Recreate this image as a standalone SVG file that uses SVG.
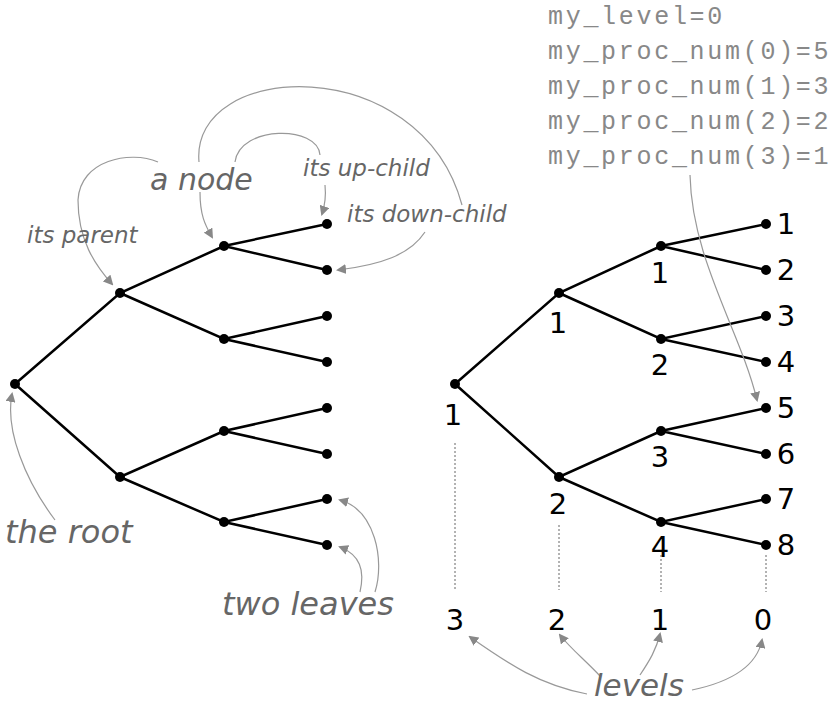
<svg xmlns="http://www.w3.org/2000/svg" width="831" height="705" viewBox="0 0 831 705">
<defs>
<marker id="ah" markerWidth="10" markerHeight="10" refX="8" refY="5" orient="auto" markerUnits="userSpaceOnUse"><path d="M0,0 L10,5 L0,10 Z" fill="#888"/></marker>
<style>
.e{stroke:#000;stroke-width:2.5;fill:none}
.a{stroke:#999;stroke-width:1.2;fill:none;marker-end:url(#ah)}
.p{stroke:#999;stroke-width:1.2;fill:none}
.d{stroke:#666;stroke-width:1;stroke-dasharray:2,2}
.n{fill:#000}
.lab{font-family:"DejaVu Sans",sans-serif;font-style:oblique;fill:#666}
.num{font-family:"DejaVu Sans",sans-serif;font-size:29px;fill:#000;text-anchor:middle}
.code{font-family:"Liberation Mono",monospace;font-size:25px;letter-spacing:2.7px;fill:#888}
</style>
</defs>
<rect width="831" height="705" fill="#fff"/>
<g id="connectors">
<path class="e" d="M15,384 L120,293 L224,246 L327,224 M224,246 L327,270 M120,293 L224,339 L327,316 M224,339 L327,362 M15,384 L120,477 L224,431 L327,408 M224,431 L327,454 M120,477 L224,522 L327,499 M224,522 L327,545"/>
<path class="e" d="M455,384 L559,293 L661,246 L766,224 M661,246 L766,270 M559,293 L661,339 L766,316 M661,339 L766,362 M455,384 L559,477 L661,431 L766,408 M661,431 L766,454 M559,477 L661,522 L766,499 M661,522 L766,545"/>
<path class="d" d="M455,443 V590 M559,525 V590 M661,555 V592 M766,555 V592"/>
<path class="a" d="M158,162 C130,150 80,160 78,200 C78,240 95,265 112,284"/>
<path class="a" d="M200,192 C200,215 205,225 212,237"/>
<path class="p" d="M235,162 C240,125 318,125 320,155"/>
<path class="a" d="M325,185 C326,195 325,205 322,214"/>
<path class="p" d="M199,162 C190,60 420,50 462,205"/>
<path class="a" d="M425,232 C410,255 380,265 338,270"/>
<path class="a" d="M55,520 C25,480 5,430 12,394"/>
<path class="a" d="M375,592 C385,560 375,510 340,500"/>
<path class="a" d="M360,592 C365,570 360,555 340,547"/>
<path class="a" d="M587,694 C540,685 510,665 470,637"/>
<path class="a" d="M600,676 C585,660 570,648 560,635"/>
<path class="a" d="M640,675 C650,660 656,650 660,634"/>
<path class="a" d="M692,690 C740,680 758,660 762,640"/>
<path class="a" d="M690,175 C692,260 740,330 757,400"/>
</g>
<g id="left-tree">
<circle class="n" cx="15" cy="384" r="5"/><circle class="n" cx="120" cy="293" r="5"/><circle class="n" cx="120" cy="477" r="5"/>
<circle class="n" cx="224" cy="246" r="5"/><circle class="n" cx="224" cy="339" r="5"/><circle class="n" cx="224" cy="431" r="5"/><circle class="n" cx="224" cy="522" r="5"/>
<circle class="n" cx="327" cy="224" r="5"/><circle class="n" cx="327" cy="270" r="5"/><circle class="n" cx="327" cy="316" r="5"/><circle class="n" cx="327" cy="362" r="5"/>
<circle class="n" cx="327" cy="408" r="5"/><circle class="n" cx="327" cy="454" r="5"/><circle class="n" cx="327" cy="499" r="5"/><circle class="n" cx="327" cy="545" r="5"/>
</g>
<g id="right-tree">
<circle class="n" cx="455" cy="384" r="5"/><circle class="n" cx="559" cy="293" r="5"/><circle class="n" cx="559" cy="477" r="5"/>
<circle class="n" cx="661" cy="246" r="5"/><circle class="n" cx="661" cy="339" r="5"/><circle class="n" cx="661" cy="431" r="5"/><circle class="n" cx="661" cy="522" r="5"/>
<circle class="n" cx="766" cy="224" r="5"/><circle class="n" cx="766" cy="270" r="5"/><circle class="n" cx="766" cy="316" r="5"/><circle class="n" cx="766" cy="362" r="5"/>
<circle class="n" cx="766" cy="408" r="5"/><circle class="n" cx="766" cy="454" r="5"/><circle class="n" cx="766" cy="499" r="5"/><circle class="n" cx="766" cy="545" r="5"/>
</g>
<g id="numbers">
<text class="num" x="786" y="234">1</text><text class="num" x="786" y="280">2</text><text class="num" x="786" y="326">3</text><text class="num" x="786" y="372">4</text>
<text class="num" x="786" y="418">5</text><text class="num" x="786" y="464">6</text><text class="num" x="786" y="509">7</text><text class="num" x="786" y="555">8</text>
<text class="num" x="453" y="425">1</text><text class="num" x="558" y="333">1</text><text class="num" x="558" y="514">2</text>
<text class="num" x="660" y="283">1</text><text class="num" x="660" y="375">2</text><text class="num" x="660" y="467">3</text><text class="num" x="660" y="557">4</text>
<text class="num" x="455" y="630">3</text><text class="num" x="557" y="630">2</text><text class="num" x="660" y="630">1</text><text class="num" x="763" y="630">0</text>
</g>
<g id="labels">
<text class="lab" x="150" y="190" font-size="30">a node</text>
<text class="lab" x="303" y="176" font-size="23">its up-child</text>
<text class="lab" x="347" y="222" font-size="23">its down-child</text>
<text class="lab" x="27" y="243" font-size="23">its parent</text>
<text class="lab" x="5" y="543" font-size="32">the root</text>
<text class="lab" x="222" y="615" font-size="32">two leaves</text>
<text class="lab" x="594" y="696" font-size="31">levels</text>
</g>
<g id="code">
<text class="code" x="548" y="24">my_level=0</text>
<text class="code" x="548" y="59">my_proc_num(0)=5</text>
<text class="code" x="548" y="94">my_proc_num(1)=3</text>
<text class="code" x="548" y="129">my_proc_num(2)=2</text>
<text class="code" x="548" y="164">my_proc_num(3)=1</text>
</g>
</svg>
